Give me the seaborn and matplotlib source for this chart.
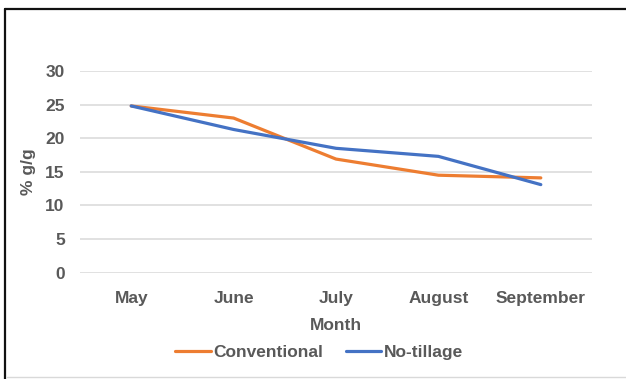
import matplotlib
matplotlib.use("Agg")
import matplotlib.pyplot as plt
from matplotlib.lines import Line2D
import seaborn as sns
import pandas as pd

months = ["May", "June", "July", "August", "September"]
conventional = [24.8, 23.0, 16.9, 14.5, 14.1]
no_tillage = [24.8, 21.3, 18.5, 17.3, 13.1]
y_ticks = [0, 5, 10, 15, 20, 25, 30]

df = pd.DataFrame({
    "Month": months * 2,
    "value": conventional + no_tillage,
    "Treatment": ["Conventional"] * len(months) + ["No-tillage"] * len(months),
})

sns.set_theme(style="white")
plt.rcParams["font.family"] = ["Liberation Sans", "DejaVu Sans"]
text_color = "#595959"
fs = 12.5

fig = plt.figure(figsize=(6.26, 3.79), dpi=100)
ax = fig.add_axes([0.1278, 0.2805, 0.8179, 0.5322])

sns.lineplot(data=df, x="Month", y="value", hue="Treatment", sort=False,
             palette={"Conventional": "#ED7D31", "No-tillage": "#4472C4"},
             linewidth=2.3, ax=ax, legend=True)

ax.set_xlim(-0.5, len(months) - 0.5)
ax.set_ylim(0, 30)
ax.set_yticks(y_ticks)
ax.yaxis.grid(True, color="#D9D9D9", linewidth=1.1)
ax.set_axisbelow(True)
for s in ax.spines.values():
    s.set_visible(False)
ax.tick_params(axis="both", length=0, labelsize=fs, labelcolor=text_color)
for lab in ax.get_xticklabels() + ax.get_yticklabels():
    lab.set_fontweight("bold")
ax.tick_params(axis="y", pad=11)
ax.tick_params(axis="x", pad=13)

ax.set_xlabel("Month", fontsize=fs, fontweight="bold", color=text_color, labelpad=9)
ax.set_ylabel("% g/g", fontsize=fs, fontweight="bold", color=text_color, labelpad=7)

leg = ax.legend(loc="center", bbox_to_anchor=(0.467, -0.395), ncol=2, frameon=False,
                handlelength=2.05, handletextpad=0.15, columnspacing=1.3,
                prop={"weight": "bold", "size": fs})
for t in leg.get_texts():
    t.set_color(text_color)
for h in leg.get_lines():
    h.set_linewidth(2.3)

# chart frame
fig.add_artist(Line2D([0.0072, 0.0072], [0.0, 0.977], transform=fig.transFigure,
                      color="#111111", linewidth=1.6))
fig.add_artist(Line2D([0.0072, 1.0], [0.977, 0.977], transform=fig.transFigure,
                      color="#111111", linewidth=1.6))
fig.add_artist(Line2D([0.011, 1.0], [0.005, 0.005], transform=fig.transFigure,
                      color="#D9D9D9", linewidth=1.0))

fig.savefig("out.png", dpi=100)
